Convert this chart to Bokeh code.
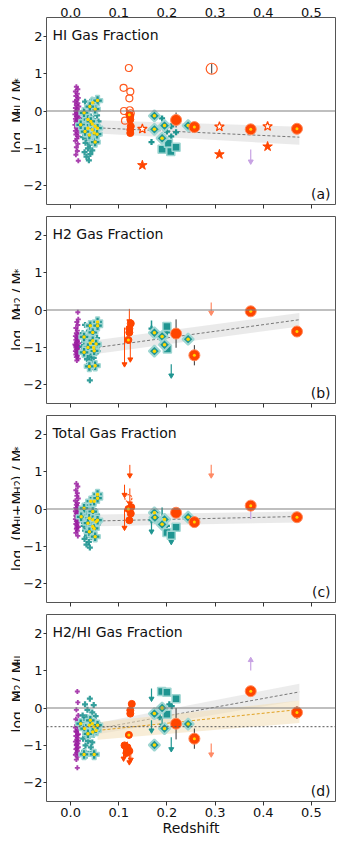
import math
from bokeh.plotting import figure
from bokeh.layouts import column, row
from bokeh.models import Range1d, LinearAxis, Label, Span, FixedTicker, CustomJSTickFormatter
from bokeh.embed import file_html
from bokeh.resources import INLINE

# ---------------- data ----------------
TITLES = ["HI Gas Fraction", "H2 Gas Fraction", "Total Gas Fraction", "H2/HI Gas Fraction"]
TAGS = ["(a)", "(b)", "(c)", "(d)"]
X_TICKS = [0.0, 0.1, 0.2, 0.3, 0.4, 0.5]
Y_TICKS = [-2, -1, 0, 1, 2]

# ---- panel (a): HI fraction
A_PURPLE_Z = [0.012,0.015,0.010,0.014,0.011,0.016,0.013,0.009,0.015,0.012,0.017,0.010,0.014,0.011,0.016,0.013,0.009,0.015,0.012,0.018,0.010,0.014,0.011,0.016,0.013,0.009,0.015,0.012,0.017,0.010,0.014,0.011,0.016,0.013,0.010,0.015,0.012,0.014,0.011,0.016]
A_PURPLE_V = [0.65,0.58,0.52,0.46,0.40,0.35,0.30,0.25,0.21,0.16,0.12,0.08,0.04,0.00,-0.03,-0.06,-0.09,-0.12,-0.15,-0.18,-0.21,-0.24,-0.27,-0.30,-0.33,-0.37,-0.41,-0.45,-0.49,-0.53,-0.58,-0.63,-0.68,-0.74,-0.80,-0.88,-0.97,-1.07,-1.17,-1.33]
A_TEAL_Z = [0.030,0.045,0.052,0.038,0.048,0.025,0.033,0.042,0.055,0.028,0.037,0.047,0.058,0.024,0.032,0.041,0.050,0.056,0.027,0.035,0.044,0.053,0.030,0.039,0.048,0.057,0.026,0.034,0.043,0.052,0.031,0.040,0.049,0.036,0.045,0.029,0.041,0.033,0.038]
A_TEAL_V = [0.25,0.30,0.18,0.10,0.05,-0.05,-0.10,-0.15,-0.12,-0.20,-0.25,-0.22,-0.28,-0.32,-0.35,-0.38,-0.33,-0.42,-0.45,-0.48,-0.52,-0.50,-0.58,-0.62,-0.60,-0.66,-0.70,-0.73,-0.78,-0.75,-0.85,-0.90,-0.88,-1.00,-1.05,-1.10,-1.15,-1.22,-1.32]
A_HALO_Z = [0.028,0.046,0.056,0.051,0.040,0.021,0.036,0.045,0.051,0.036,0.045,0.056,0.039,0.049,0.051,0.030,0.042,0.055]
A_HALO_V = [-0.05,0.22,0.28,0.05,0.12,-0.37,-0.23,-0.35,-0.41,-0.46,-0.50,-0.46,-0.64,-0.59,-0.83,-0.55,-0.28,-0.62]
A_DIAM_Z = [0.174,0.174,0.195,0.190,0.244]
A_DIAM_V = [-0.13,-0.49,-0.39,-0.73,-0.39]
A_TMID_Z = [0.190,0.209,0.219,0.209,0.168,0.200]
A_TMID_V = [-0.20,-0.41,-0.57,-0.68,-0.83,-0.55]
A_SQ_Z = [0.190,0.203,0.208,0.219]
A_SQ_V = [-1.02,-0.86,-1.08,-0.97]
A_OPEN_Z = [0.121,0.110,0.124,0.122,0.111,0.123,0.113,0.125]
A_OPEN_V = [1.15,0.62,0.52,0.34,0.00,0.02,-0.26,-0.06]
A_OPENBIG_Z = [0.293]
A_OPENBIG_V = [1.13]
A_OPENBIG_E = [0.13]
A_RSMALL_Z = [0.124,0.124,0.125,0.124,0.124]
A_RSMALL_V = [-0.13,-0.23,-0.41,-0.50,-0.59]
A_RDOT_Z = [0.122]
A_RDOT_V = [-0.10]
A_RBIG_Z = [0.219,0.257,0.374,0.470]
A_RBIG_V = [-0.24,-0.43,-0.49,-0.475]
A_RBIG_E = [0.20,0.10,0.0,0.12]
A_RBIG_DOT = [False,True,True,True]
A_STAR_OPEN_Z = [0.149,0.309,0.409]
A_STAR_OPEN_V = [-0.48,-0.42,-0.41]
A_STAR_FILL_Z = [0.149,0.309,0.409]
A_STAR_FILL_V = [-1.45,-1.16,-0.95]
A_PLIM_Z = [0.374]; A_PLIM_V0 = [-1.03]; A_PLIM_V1 = [-1.35]
A_FIT_Z = [0.056,0.475]; A_FIT_V = [-0.45,-0.70]; A_FIT_LO = [-0.60,-0.90]; A_FIT_HI = [-0.25,-0.42]

# ---- panel (b): H2 fraction
B_PURPLE_Z = [0.015,0.016,0.013,0.015,0.011,0.014,0.012,0.016,0.010,0.013,0.015,0.011,0.014,0.012,0.017,0.009,0.013,0.015,0.011,0.014,0.012,0.016,0.010,0.013,0.015,0.011,0.014,0.012,0.016,0.013,0.010,0.017]
B_PURPLE_V = [-0.06,-0.25,-0.32,-0.40,-0.48,-0.55,-0.62,-0.66,-0.70,-0.74,-0.77,-0.80,-0.83,-0.86,-0.89,-0.92,-0.94,-0.97,-1.00,-1.02,-1.05,-1.08,-1.10,-1.13,-1.16,-1.19,-1.22,-1.26,-1.30,-1.35,-0.95,-1.00]
B_TEAL_Z = [0.030,0.045,0.052,0.038,0.025,0.048,0.033,0.042,0.055,0.028,0.037,0.047,0.058,0.024,0.032,0.041,0.050,0.056,0.027,0.035,0.044,0.053,0.030,0.039,0.048,0.034,0.043,0.038,0.046,0.040]
B_TEAL_V = [-0.40,-0.35,-0.48,-0.55,-0.62,-0.65,-0.72,-0.78,-0.75,-0.85,-0.88,-0.92,-0.95,-0.98,-1.02,-1.05,-1.00,-1.10,-1.12,-1.15,-1.18,-1.15,-1.22,-1.25,-1.28,-1.32,-1.38,-1.45,-1.52,-1.88]
B_HALO_Z = [0.028,0.041,0.046,0.056,0.056,0.041,0.046,0.048,0.053,0.049,0.036,0.051,0.039,0.028]
B_HALO_V = [-0.72,-0.42,-0.60,-0.32,-0.42,-0.89,-0.82,-1.00,-0.91,-1.09,-1.00,-1.49,-1.51,-1.13]
B_DIAM_Z = [0.174,0.190,0.195,0.174,0.244]
B_DIAM_V = [-0.61,-0.71,-0.93,-1.10,-0.78]
B_TMID_Z = [0.168,0.180,0.200,0.190]
B_TMID_V = [-0.50,-0.62,-0.60,-0.80]
B_SQ_Z = [0.200,0.201]
B_SQ_V = [-0.44,-1.04]
B_TERR_Z = [0.168]; B_TERR_V0 = [-0.28]; B_TERR_V1 = [-0.62]
B_TARR_Z = [0.209]; B_TARR_V0 = [-1.45]; B_TARR_V1 = [-1.75]
B_RSMALL_Z = [0.125,0.122,0.122]
B_RSMALL_V = [-0.36,-0.50,-0.60]
B_RDOT_Z = [0.120]
B_RDOT_V = [-0.80]
B_RARR_Z = [0.122,0.112,0.124]; B_RARR_V0 = [0.03,-0.47,-0.85]; B_RARR_V1 = [-0.30,-1.45,-1.32]
B_RBIG_Z = [0.219,0.257,0.374,0.470]
B_RBIG_V = [-0.63,-1.21,-0.035,-0.575]
B_RBIG_E = [0.38,0.27,0.0,0.13]
B_RBIG_DOT = [False,True,True,True]
B_OLIM_Z = [0.292]; B_OLIM_V0 = [0.20]; B_OLIM_V1 = [-0.07]
B_FIT_Z = [0.056,0.475]; B_FIT_V = [-1.00,-0.26]; B_FIT_LO = [-1.17,-0.44]; B_FIT_HI = [-0.80,-0.08]

# ---- panel (c): total gas fraction
C_PURPLE_Z = [0.012,0.015,0.011,0.014,0.013,0.016,0.010,0.014,0.012,0.015,0.011,0.013,0.016,0.010,0.014,0.012,0.015,0.011,0.013,0.016,0.010,0.014,0.012,0.015,0.011,0.013,0.016,0.012,0.014,0.011,0.015,0.013]
C_PURPLE_V = [0.68,0.60,0.50,0.42,0.35,0.28,0.22,0.16,0.11,0.07,0.03,0.00,-0.03,-0.06,-0.09,-0.12,-0.15,-0.18,-0.21,-0.24,-0.27,-0.30,-0.33,-0.36,-0.40,-0.44,-0.48,-0.53,-0.58,-0.64,-0.72,-0.50]
C_TEAL_Z = [0.045,0.052,0.030,0.038,0.048,0.025,0.033,0.042,0.055,0.028,0.037,0.047,0.058,0.024,0.032,0.041,0.050,0.056,0.027,0.035,0.044,0.053,0.030,0.039,0.048,0.034,0.043,0.029,0.038,0.033,0.040]
C_TEAL_V = [0.28,0.20,0.10,0.05,0.00,-0.08,-0.12,-0.10,-0.15,-0.20,-0.25,-0.22,-0.28,-0.32,-0.35,-0.38,-0.33,-0.42,-0.45,-0.48,-0.52,-0.50,-0.58,-0.62,-0.60,-0.70,-0.75,-0.80,-0.88,-0.95,-1.03]
C_HALO_Z = [0.028,0.042,0.049,0.056,0.056,0.046,0.022,0.039,0.046,0.053,0.036,0.046,0.049,0.039,0.051,0.056]
C_HALO_V = [0.02,0.21,0.21,0.39,0.29,-0.07,-0.21,-0.25,-0.29,-0.34,-0.38,-0.47,-0.52,-0.61,-0.74,-0.30]
C_DIAM_Z = [0.174,0.175,0.195,0.190,0.244]
C_DIAM_V = [-0.10,-0.23,-0.28,-0.41,-0.22]
C_TMID_Z = [0.168,0.200,0.185]
C_TMID_V = [-0.30,-0.45,-0.35]
C_SQ_Z = [0.219,0.200,0.209]
C_SQ_V = [-0.49,-0.63,-0.70]
C_TERR_Z = [0.190]; C_TERR_V0 = [0.04]; C_TERR_V1 = [-0.43]
C_TARR_Z = [0.168,0.209]; C_TARR_V0 = [-0.10,-0.70]; C_TARR_V1 = [-0.60,-0.88]
C_OPEN_Z = [0.120]
C_OPEN_V = [0.29]
C_RSMALL_Z = [0.126,0.125,0.122]
C_RSMALL_V = [0.05,-0.12,-0.30]
C_RDOT_Z = [0.120]
C_RDOT_V = [0.00]
C_RARR_Z = [0.123,0.112,0.123,0.112]; C_RARR_V0 = [1.18,0.65,0.55,0.00]; C_RARR_V1 = [0.90,0.38,0.15,-0.50]
C_RBIG_Z = [0.219,0.257,0.374,0.470]
C_RBIG_V = [-0.10,-0.35,0.09,-0.22]
C_RBIG_E = [0.13,0.0,0.0,0.0]
C_RBIG_DOT = [False,True,True,True]
C_PLINE_Z = [0.374]; C_PLINE_V0 = [0.09]; C_PLINE_V1 = [-0.27]
C_OLIM_Z = [0.292]; C_OLIM_V0 = [1.18]; C_OLIM_V1 = [0.90]
C_FIT_Z = [0.056,0.475]; C_FIT_V = [-0.32,-0.20]; C_FIT_LO = [-0.46,-0.36]; C_FIT_HI = [-0.15,-0.07]

# ---- panel (d): H2/HI ratio
D_PURPLE_Z = [0.014,0.015,0.012,0.016,0.011,0.014,0.013,0.010,0.015,0.012,0.016,0.011,0.014,0.013,0.010,0.015,0.012,0.016,0.011,0.014,0.013,0.010,0.015,0.012,0.016,0.011,0.013,0.014,0.012,0.015]
D_PURPLE_V = [0.44,0.15,-0.05,-0.20,-0.30,-0.38,-0.45,-0.52,-0.58,-0.64,-0.70,-0.75,-0.80,-0.85,-0.90,-0.95,-1.00,-1.05,-1.10,-1.15,-1.20,-1.25,-1.30,-1.38,-0.88,-0.62,-1.08,-1.60,-0.98,-0.72]
D_TEAL_Z = [0.040,0.030,0.048,0.035,0.045,0.025,0.033,0.052,0.028,0.038,0.047,0.056,0.024,0.032,0.041,0.050,0.027,0.035,0.044,0.053,0.030,0.039,0.048,0.026,0.036,0.045,0.031,0.042,0.028,0.037,0.046,0.033]
D_TEAL_V = [0.25,0.10,0.08,-0.05,-0.12,-0.20,-0.25,-0.22,-0.32,-0.35,-0.38,-0.40,-0.45,-0.48,-0.52,-0.50,-0.58,-0.62,-0.60,-0.65,-0.70,-0.75,-0.72,-0.82,-0.88,-0.92,-1.00,-1.05,-1.15,-1.22,-1.18,-1.28]
D_HALO_Z = [0.021,0.029,0.039,0.045,0.049,0.053,0.046,0.036,0.056,0.041,0.028,0.049]
D_HALO_V = [-0.42,-0.55,-0.46,-0.42,-0.51,-0.60,-0.64,-0.69,-0.46,-0.33,-1.24,-1.24]
D_DIAM_Z = [0.174,0.190,0.195,0.174,0.244]
D_DIAM_V = [-0.15,0.00,-0.55,-0.99,-0.43]
D_TMID_Z = [0.205,0.195,0.185,0.210]
D_TMID_V = [0.10,-0.05,-0.25,0.05]
D_SQ_Z = [0.189,0.200,0.219,0.200]
D_SQ_V = [0.44,0.42,0.25,-0.17]
D_TARR_Z = [0.168,0.168,0.190,0.209]; D_TARR_V0 = [0.52,-0.33,-0.25,-0.78]; D_TARR_V1 = [0.25,-0.60,-0.47,-1.10]
D_RSMALL_Z = [0.127,0.124,0.124,0.112,0.118,0.122,0.116]
D_RSMALL_V = [0.11,-0.06,-0.15,-1.00,-1.05,-1.15,-1.20]
D_RDOT_Z = [0.121]
D_RDOT_V = [-0.72]
D_RARR_Z = [0.110,0.114,0.118,0.122,0.125]; D_RARR_V0 = [-0.95,-1.00,-0.90,-1.00,-1.05]; D_RARR_V1 = [-1.35,-1.25,-1.20,-1.45,-1.38]
D_RBIG_Z = [0.219,0.257,0.374,0.470]
D_RBIG_V = [-0.42,-0.82,0.45,-0.12]
D_RBIG_E = [0.42,0.27,0.0,0.17]
D_RBIG_DOT = [False,True,True,True]
D_PLIM_Z = [0.374]; D_PLIM_V0 = [1.00]; D_PLIM_V1 = [1.28]
D_OLIM_Z = [0.292]; D_OLIM_V0 = [-0.95]; D_OLIM_V1 = [-1.24]
D_FIT_Z = [0.056,0.475]; D_FIT_V = [-0.55,0.43]; D_FIT_LO = [-0.70,0.20]; D_FIT_HI = [-0.40,0.65]
D_FIT2_V = [-0.60,-0.04]; D_FIT2_LO = [-0.85,-0.40]; D_FIT2_HI = [-0.38,0.20]
D_REF_LEVEL = -0.5

# ---------------- style ----------------
FONT = "DejaVu Sans"
PURPLE = "#9a1ea0"
TEAL = "#1f9591"
HALO = "#9fd6d2"
RED = "#ff4500"
OPEN_RED = "#ff5a1f"
YELLOW = "#ffd700"
LPURPLE = "#c7a2e3"
LORANGE = "#ff8a65"
EBAR = "#333333"

FRAME_W, FRAME_H = 294, 187
PXX = FRAME_W / 0.6
PXV = FRAME_H / 5.0
LAB_W = 20          # width of the strip that carries the rotated y label
MAIN_LEFT = 21      # space for y ticks and tick labels
LAB_FS, SUB_FS = 14, 10
BASE_X, SUB_SHIFT = 16.5, 1.5

W = {'l': 0.278, 'o': 0.612, 'g': 0.635, ' ': 0.318, '\u00a0': 0.318, 'M': 0.863, 'H': 0.752,
     'I': 0.295, '2': 0.636, '/': 0.337, '*': 0.5, '(': 0.390, ')': 0.390, '+': 0.838}


def text_w(s, fs):
    return sum(W.get(c, 0.6) for c in s) * fs


def make_fig(h, top, bottom, top_axis=False, labels=False):
    p = figure(width=MAIN_LEFT + FRAME_W + 8, height=h, x_range=Range1d(-0.05, 0.55),
               y_range=Range1d(-2.5, 2.5), output_backend="svg", toolbar_location=None,
               min_border_left=MAIN_LEFT, min_border_right=8, min_border_top=top, min_border_bottom=bottom)
    p.xgrid.visible = False
    p.ygrid.visible = False
    p.outline_line_color = "#555555"
    p.outline_line_width = 1
    p.background_fill_color = "white"
    p.border_fill_color = "white"
    xfmt = CustomJSTickFormatter(code="return tick.toFixed(1);")
    yfmt = CustomJSTickFormatter(code="return tick < 0 ? '\u2212' + (-tick) : '' + tick;")
    for ax in p.xaxis:
        ax.ticker = FixedTicker(ticks=X_TICKS)
        ax.formatter = xfmt
        ax.axis_line_color = None
        ax.major_tick_out = 4
        ax.major_tick_in = 0
        ax.minor_tick_out = 0
        ax.minor_tick_in = 0
        ax.major_tick_line_color = "#333333"
        if labels:
            ax.major_label_text_font_size = "13px"
            ax.major_label_text_font = FONT
            ax.major_label_text_color = "#111111"
            ax.major_label_standoff = 2
            ax.axis_label = "Redshift"
            ax.axis_label_text_font = FONT
            ax.axis_label_text_font_size = "14px"
            ax.axis_label_text_font_style = "normal"
            ax.axis_label_text_color = "#111111"
            ax.axis_label_standoff = 0
        else:
            ax.major_label_text_font_size = "1px"
            ax.major_label_text_color = None
            ax.major_label_standoff = 0
    for ax in p.yaxis:
        ax.ticker = FixedTicker(ticks=Y_TICKS)
        ax.formatter = yfmt
        ax.axis_line_color = None
        ax.major_tick_out = 3
        ax.major_tick_in = 0
        ax.minor_tick_out = 0
        ax.minor_tick_in = 0
        ax.major_tick_line_color = "#333333"
        ax.major_label_text_font_size = "13px"
        ax.major_label_text_font = FONT
        ax.major_label_text_color = "#111111"
        ax.major_label_standoff = 1
    if top_axis:
        ta = LinearAxis(ticker=FixedTicker(ticks=X_TICKS), formatter=xfmt,
                        axis_line_color=None, major_tick_out=0, major_tick_in=0,
                        minor_tick_out=0, minor_tick_in=0,
                        major_label_text_font_size="13px", major_label_text_font=FONT,
                        major_label_text_color="#111111", major_label_standoff=1)
        p.add_layout(ta, "above")
    return p


def label_strip(h, bottom, pieces):
    """A narrow figure (pixel coordinates) that carries the rotated y-axis label."""
    f = figure(width=LAB_W, height=h, x_range=Range1d(0, LAB_W), y_range=Range1d(0, h),
               output_backend="svg", toolbar_location=None, min_border=0,
               x_axis_location=None, y_axis_location=None, outline_line_color=None)
    f.grid.visible = False
    f.background_fill_color = "white"
    f.border_fill_color = "white"
    total = sum(text_w(t, SUB_FS if sub else LAB_FS) for t, sub in pieces)
    cur = bottom + FRAME_H / 2.0 - total / 2.0
    for t, sub in pieces:
        fs = SUB_FS if sub else LAB_FS
        f.add_layout(Label(x=BASE_X + (SUB_SHIFT if sub else 0.0), y=cur, text=t,
                           angle=math.pi / 2, text_font=FONT, text_font_size=f"{fs}px",
                           text_color="#111111", text_baseline="alphabetic", text_align="left"))
        cur += text_w(t, fs)
    return f


def titles(p, title, tag):
    p.add_layout(Label(x=-0.05 + 6.0 / PXX, y=2.5 - 17.0 / PXV, text=title, text_font=FONT,
                       text_font_size="14px", text_color="#111111", text_baseline="middle"))
    p.add_layout(Label(x=0.55 - 5.0 / PXX, y=-2.5 + 11.0 / PXV, text=tag, text_font=FONT,
                       text_font_size="14px", text_color="#111111", text_baseline="middle",
                       text_align="right"))


def fit(p, z, v, lo, hi, band_color, line_color, band_alpha=0.55):
    p.varea(x=z, y1=lo, y2=hi, fill_color=band_color, fill_alpha=band_alpha)
    p.line(x=z, y=v, line_color=line_color, line_dash="3 2", line_width=1)


def arrows(p, z, v0, v1, color, width=1.2, head=5):
    p.segment(x0=z, y0=v0, x1=z, y1=v1, line_color=color, line_width=width)
    down = [b < a for a, b in zip(v0, v1)]
    zd = [zz for zz, d in zip(z, down) if d]
    vd = [vv for vv, d in zip(v1, down) if d]
    zu = [zz for zz, d in zip(z, down) if not d]
    vu = [vv for vv, d in zip(v1, down) if not d]
    if zd:
        p.scatter(zd, vd, marker="inverted_triangle", size=head, fill_color=color, line_color=color)
    if zu:
        p.scatter(zu, vu, marker="triangle", size=head, fill_color=color, line_color=color)


def base_points(p, pz, pv, tz, tv, hz, hv):
    p.scatter(pz, pv, marker="plus", size=5, fill_color=PURPLE, line_color=None, fill_alpha=0.85)
    p.scatter(tz, tv, marker="plus", size=6, fill_color=TEAL, line_color=None, fill_alpha=0.9)
    p.scatter(hz, hv, marker="plus", size=10, fill_color=TEAL, line_color=HALO, line_width=1.5)
    p.scatter(hz, hv, marker="circle", size=3.5, fill_color=YELLOW, line_color=None)


def mid_points(p, dz, dv, mz, mv, sz, sv):
    p.scatter(mz, mv, marker="plus", size=6, fill_color=TEAL, line_color=None)
    p.scatter(sz, sv, marker="square", size=8, fill_color=TEAL, line_color=HALO, line_width=1.5)
    p.scatter(dz, dv, marker="square", angle=math.pi / 4, size=8, fill_color=TEAL, line_color=HALO, line_width=2)
    p.scatter(dz, dv, marker="circle", size=3.5, fill_color=YELLOW, line_color=None)


def red_points(p, sz, sv, yz, yv, bz, bv, be, bdot):
    p.scatter(sz, sv, marker="circle", size=7, fill_color=RED, line_color=RED)
    p.scatter(yz, yv, marker="circle", size=7, fill_color=RED, line_color=RED)
    p.scatter(yz, yv, marker="circle", size=3, fill_color=YELLOW, line_color=None)
    ez = [z for z, e in zip(bz, be) if e > 0]
    e0 = [v - e for v, e in zip(bv, be) if e > 0]
    e1 = [v + e for v, e in zip(bv, be) if e > 0]
    p.segment(x0=ez, y0=e0, x1=ez, y1=e1, line_color=EBAR, line_width=1)
    p.scatter(bz, bv, marker="circle", size=11, fill_color=RED, line_color="#ff8a5c", line_width=1)
    dz = [z for z, d in zip(bz, bdot) if d]
    dv = [v for v, d in zip(bv, bdot) if d]
    p.scatter(dz, dv, marker="circle", size=3, fill_color=YELLOW, line_color=None)


def zero_line(p):
    p.add_layout(Span(location=0, dimension="width", line_color="#808080", line_width=1.2))


# ---------------- panel a ----------------
HA, TOPA, BOTA = 210, 17, 6
pa = make_fig(HA, TOPA, BOTA, top_axis=True)
fit(pa, A_FIT_Z, A_FIT_V, A_FIT_LO, A_FIT_HI, "#d9d9d9", "#777777")
zero_line(pa)
base_points(pa, A_PURPLE_Z, A_PURPLE_V, A_TEAL_Z, A_TEAL_V, A_HALO_Z, A_HALO_V)
mid_points(pa, A_DIAM_Z, A_DIAM_V, A_TMID_Z, A_TMID_V, A_SQ_Z, A_SQ_V)
pa.scatter(A_OPEN_Z, A_OPEN_V, marker="circle", size=7, fill_color=None, line_color=OPEN_RED, line_width=1.2)
pa.segment(x0=A_OPENBIG_Z, y0=[v - e for v, e in zip(A_OPENBIG_V, A_OPENBIG_E)],
           x1=A_OPENBIG_Z, y1=[v + e for v, e in zip(A_OPENBIG_V, A_OPENBIG_E)], line_color=EBAR, line_width=1)
pa.scatter(A_OPENBIG_Z, A_OPENBIG_V, marker="circle", size=11, fill_color=None, line_color=OPEN_RED, line_width=1.2)
red_points(pa, A_RSMALL_Z, A_RSMALL_V, A_RDOT_Z, A_RDOT_V, A_RBIG_Z, A_RBIG_V, A_RBIG_E, A_RBIG_DOT)
pa.scatter(A_STAR_OPEN_Z, A_STAR_OPEN_V, marker="star", size=10, fill_color="white", line_color=RED, line_width=1.2)
pa.scatter(A_STAR_FILL_Z, A_STAR_FILL_V, marker="star", size=10, fill_color=RED, line_color=RED)
arrows(pa, A_PLIM_Z, A_PLIM_V0, A_PLIM_V1, LPURPLE)
titles(pa, TITLES[0], TAGS[0])
la = label_strip(HA, BOTA, [("log\u00a0\u00a0M", 0), ("HI", 1), ("\u00a0/\u00a0M", 0), ("*", 1)])

# ---------------- panel b ----------------
HB, TOPB, BOTB = 199, 6, 6
pb = make_fig(HB, TOPB, BOTB)
fit(pb, B_FIT_Z, B_FIT_V, B_FIT_LO, B_FIT_HI, "#d9d9d9", "#777777")
zero_line(pb)
base_points(pb, B_PURPLE_Z, B_PURPLE_V, B_TEAL_Z, B_TEAL_V, B_HALO_Z, B_HALO_V)
pb.segment(x0=B_TERR_Z, y0=B_TERR_V0, x1=B_TERR_Z, y1=B_TERR_V1, line_color=TEAL, line_width=1.5)
arrows(pb, B_TARR_Z, B_TARR_V0, B_TARR_V1, TEAL)
mid_points(pb, B_DIAM_Z, B_DIAM_V, B_TMID_Z, B_TMID_V, B_SQ_Z, B_SQ_V)
arrows(pb, B_RARR_Z, B_RARR_V0, B_RARR_V1, RED, width=1)
red_points(pb, B_RSMALL_Z, B_RSMALL_V, B_RDOT_Z, B_RDOT_V, B_RBIG_Z, B_RBIG_V, B_RBIG_E, B_RBIG_DOT)
arrows(pb, B_OLIM_Z, B_OLIM_V0, B_OLIM_V1, LORANGE)
titles(pb, TITLES[1], TAGS[1])
lb = label_strip(HB, BOTB, [("log\u00a0\u00a0M", 0), ("H2", 1), ("\u00a0/\u00a0M", 0), ("*", 1)])

# ---------------- panel c ----------------
HC, TOPC, BOTC = 199, 6, 6
pc = make_fig(HC, TOPC, BOTC)
fit(pc, C_FIT_Z, C_FIT_V, C_FIT_LO, C_FIT_HI, "#d9d9d9", "#777777")
zero_line(pc)
base_points(pc, C_PURPLE_Z, C_PURPLE_V, C_TEAL_Z, C_TEAL_V, C_HALO_Z, C_HALO_V)
pc.segment(x0=C_TERR_Z, y0=C_TERR_V0, x1=C_TERR_Z, y1=C_TERR_V1, line_color=TEAL, line_width=1.5)
arrows(pc, C_TARR_Z, C_TARR_V0, C_TARR_V1, TEAL)
mid_points(pc, C_DIAM_Z, C_DIAM_V, C_TMID_Z, C_TMID_V, C_SQ_Z, C_SQ_V)
arrows(pc, C_RARR_Z, C_RARR_V0, C_RARR_V1, RED, width=1)
pc.scatter(C_OPEN_Z, C_OPEN_V, marker="circle", size=7, fill_color=None, line_color=OPEN_RED, line_width=1.2, line_dash="2 1")
pc.segment(x0=C_PLINE_Z, y0=C_PLINE_V0, x1=C_PLINE_Z, y1=C_PLINE_V1, line_color=LPURPLE, line_width=1.2)
red_points(pc, C_RSMALL_Z, C_RSMALL_V, C_RDOT_Z, C_RDOT_V, C_RBIG_Z, C_RBIG_V, C_RBIG_E, C_RBIG_DOT)
arrows(pc, C_OLIM_Z, C_OLIM_V0, C_OLIM_V1, LORANGE)
titles(pc, TITLES[2], TAGS[2])
lc = label_strip(HC, BOTC, [("log\u00a0\u00a0(M", 0), ("HI", 1), ("+M", 0), ("H2", 1), (")\u00a0/\u00a0M", 0), ("*", 1)])

# ---------------- panel d ----------------
HD, TOPD, BOTD = 231, 6, 38
pd_ = make_fig(HD, TOPD, BOTD, labels=True)
fit(pd_, D_FIT_Z, D_FIT_V, D_FIT_LO, D_FIT_HI, "#d9d9d9", "#777777", band_alpha=0.5)
fit(pd_, D_FIT_Z, D_FIT2_V, D_FIT2_LO, D_FIT2_HI, "#f3dfb6", "#e0a020", band_alpha=0.55)
zero_line(pd_)
pd_.add_layout(Span(location=D_REF_LEVEL, dimension="width", line_color="#555555", line_width=1, line_dash="2 2"))
base_points(pd_, D_PURPLE_Z, D_PURPLE_V, D_TEAL_Z, D_TEAL_V, D_HALO_Z, D_HALO_V)
arrows(pd_, D_TARR_Z, D_TARR_V0, D_TARR_V1, TEAL)
mid_points(pd_, D_DIAM_Z, D_DIAM_V, D_TMID_Z, D_TMID_V, D_SQ_Z, D_SQ_V)
arrows(pd_, D_RARR_Z, D_RARR_V0, D_RARR_V1, RED, width=1)
red_points(pd_, D_RSMALL_Z, D_RSMALL_V, D_RDOT_Z, D_RDOT_V, D_RBIG_Z, D_RBIG_V, D_RBIG_E, D_RBIG_DOT)
arrows(pd_, D_PLIM_Z, D_PLIM_V0, D_PLIM_V1, LPURPLE)
arrows(pd_, D_OLIM_Z, D_OLIM_V0, D_OLIM_V1, LORANGE)
titles(pd_, TITLES[3], TAGS[3])
ld = label_strip(HD, BOTD, [("log\u00a0\u00a0M", 0), ("H2", 1), ("\u00a0/\u00a0M", 0), ("HI", 1)])

layout = column(row(la, pa, spacing=0), row(lb, pb, spacing=0), row(lc, pc, spacing=0),
                row(ld, pd_, spacing=0), spacing=0)
open("out.html", "w").write(file_html(layout, INLINE))
